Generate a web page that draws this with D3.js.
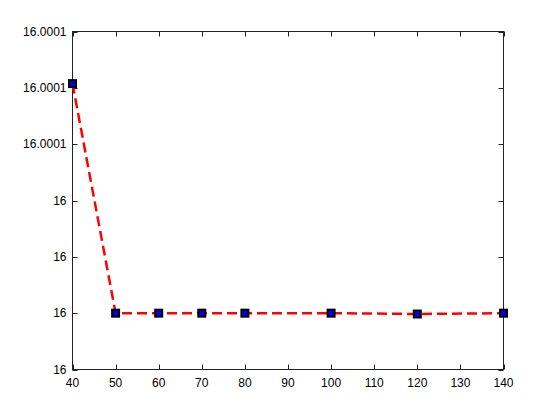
<!DOCTYPE html>
<html>
<head>
<meta charset="utf-8">
<script src="https://cdn.jsdelivr.net/npm/d3@7"></script>
<style>
body { margin: 0; background: #fff; }
text { font-family: "Liberation Sans", Arial, sans-serif; font-size: 12px; fill: #000; }
</style>
</head>
<body>
<svg width="556" height="416"></svg>
<script>
var xValues = [40, 50, 60, 70, 80, 100, 120, 140];
var yValues = [16.0000815, 16.0000000, 16.0000000, 16.0000000, 16.0000000, 16.0000000, 15.9999997, 16.0000000];
var xTicks = [40, 50, 60, 70, 80, 90, 100, 110, 120, 130, 140];
var yTicks = [15.99998, 16.00000, 16.00002, 16.00004, 16.00006, 16.00008, 16.00010];

var svg = d3.select("svg"),
    axLeft = 72.5, axRight = 503.5, axTop = 31.5, axBottom = 369.5;

var x = d3.scaleLinear().domain([40, 140]).range([axLeft, axRight]);
var y = d3.scaleLinear().domain([15.99998, 16.0001]).range([axBottom, axTop]);

// matlab style %g, 6 significant digits
function fmt(v) {
    return String(+v.toPrecision(6));
}

var g = svg.append("g");

g.append("rect")
    .attr("x", axLeft).attr("y", axTop)
    .attr("width", axRight - axLeft).attr("height", axBottom - axTop)
    .attr("fill", "none").attr("stroke", "#222").attr("stroke-width", 1);

// ticks point inward on all four sides
var tickLen = 5;
xTicks.forEach(function (t) {
    var px = Math.round(x(t)) + 0.5;
    g.append("line").attr("x1", px).attr("x2", px).attr("y1", axBottom).attr("y2", axBottom - tickLen).attr("stroke", "#222");
    g.append("line").attr("x1", px).attr("x2", px).attr("y1", axTop).attr("y2", axTop + tickLen).attr("stroke", "#222");
    g.append("text").attr("x", x(t)).attr("y", axBottom + 17).attr("text-anchor", "middle").text(t);
});
yTicks.forEach(function (t) {
    var py = Math.round(y(t)) + 0.5;
    g.append("line").attr("x1", axLeft).attr("x2", axLeft + tickLen).attr("y1", py).attr("y2", py).attr("stroke", "#222");
    g.append("line").attr("x1", axRight).attr("x2", axRight - tickLen).attr("y1", py).attr("y2", py).attr("stroke", "#222");
    g.append("text").attr("x", axLeft - 6).attr("y", y(t) + 4).attr("text-anchor", "end").text(fmt(t));
});

var pts = xValues.map(function (v, i) { return [v, yValues[i]]; });

var line = d3.line()
    .x(function (d) { return x(d[0]); })
    .y(function (d) { return y(d[1]); });

g.append("path")
    .datum(pts)
    .attr("d", line)
    .attr("fill", "none")
    .attr("stroke", "#ff0000")
    .attr("stroke-width", 2.5)
    .attr("stroke-dasharray", "10,5");

g.selectAll("rect.mk")
    .data(pts)
    .enter().append("rect")
    .attr("class", "mk")
    .attr("x", function (d) { return x(d[0]) - 3.5; })
    .attr("y", function (d) { return y(d[1]) - 3.5; })
    .attr("width", 7).attr("height", 7)
    .attr("fill", "#0000ee")
    .attr("stroke", "#000")
    .attr("stroke-width", 2);
</script>
</body>
</html>
